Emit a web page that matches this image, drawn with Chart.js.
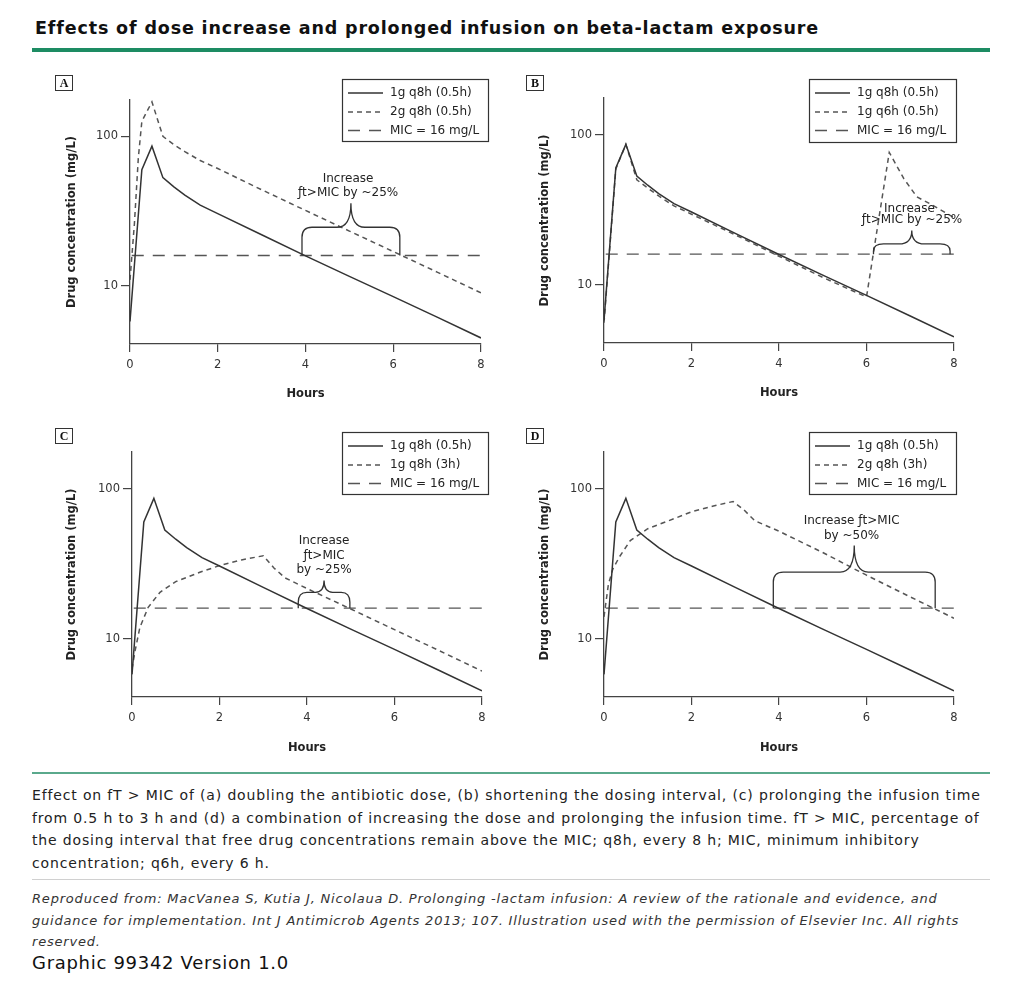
<!DOCTYPE html>
<html lang="en">
<head>
<meta charset="UTF-8">
<title>Effects of dose increase and prolonged infusion on beta-lactam exposure</title>
<script src="https://cdn.jsdelivr.net/npm/chart.js"></script>
<style>
  body { margin: 0; background: #fff; font-family: "DejaVu Sans", Verdana, sans-serif; color: #222; }
  .page { position: relative; width: 1024px; height: 1000px; overflow: hidden; }
  .abs { position: absolute; }
  .title { left: 35px; top: 17px; font-size: 17.5px; letter-spacing: 0.85px; font-weight: bold; line-height: 22px; color: #111; white-space: nowrap; }
  .bar { left: 32px; top: 48px; width: 958px; height: 4px; background: #1d8c63; }
  .bar2 { left: 32px; top: 772px; width: 958px; height: 2px; background: #5aa98c; }
  .sep { left: 32px; top: 879px; width: 958px; height: 1px; background: #d0d0d0; }
  .tag { width: 16px; height: 14px; border: 1.3px solid #333; font: bold 12px "Liberation Serif", serif; text-align: center; line-height: 14px; color: #111; }
  .caption { left: 32px; top: 784px; font-size: 14px; letter-spacing: 0.85px; line-height: 22.7px; color: #222; white-space: nowrap; }
  .ref { left: 32px; top: 888px; font-size: 13px; letter-spacing: 0.8px; line-height: 21.5px; font-style: italic; color: #333; white-space: nowrap; }
  .graphic { left: 32px; top: 952px; font-size: 18px; letter-spacing: 0.7px; line-height: 22px; color: #111; white-space: nowrap; }
</style>
</head>
<body>
<div class="page">
  <div class="abs title">Effects of dose increase and prolonged infusion on beta-lactam exposure</div>
  <div class="abs bar"></div>

  <canvas id="chartA" class="abs" width="445" height="345" style="left:50px;top:60px"></canvas>
  <canvas id="chartB" class="abs" width="445" height="345" style="left:524px;top:60px"></canvas>
  <canvas id="chartC" class="abs" width="445" height="345" style="left:50px;top:412px"></canvas>
  <canvas id="chartD" class="abs" width="445" height="345" style="left:524px;top:412px"></canvas>

  <div class="abs tag" style="left:55px;top:75px">A</div>
  <div class="abs tag" style="left:526px;top:75px">B</div>
  <div class="abs tag" style="left:55px;top:428px">C</div>
  <div class="abs tag" style="left:526px;top:428px">D</div>

  <div class="abs bar2"></div>
  <div class="abs caption">Effect on fT &gt; MIC of (a) doubling the antibiotic dose, (b) shortening the dosing interval, (c) prolonging the infusion time<br>from 0.5 h to 3 h and (d) a combination of increasing the dose and prolonging the infusion time. fT &gt; MIC, percentage of<br>the dosing interval that free drug concentrations remain above the MIC; q8h, every 8 h; MIC, minimum inhibitory<br>concentration; q6h, every 6 h.</div>
  <div class="abs sep"></div>
  <div class="abs ref">Reproduced from: MacVanea S, Kutia J, Nicolaua D. Prolonging -lactam infusion: A review of the rationale and evidence, and<br>guidance for implementation. Int J Antimicrob Agents 2013; 107. Illustration used with the permission of Elsevier Inc. All rights<br>reserved.</div>
  <div class="abs graphic">Graphic 99342 Version 1.0</div>
</div>

<script>
  // data (hours, mg/L)
  const hours1g = [0, 0.27, 0.5, 0.75, 1, 1.25, 1.6, 2, 3, 4, 5, 6, 7, 8];
  const conc1g  = [5.8, 60, 86, 53, 46, 40.5, 34.7, 30.5, 22, 15.9, 11.6, 8.5, 6.2, 4.5];

  const hours2g = [0, 0.1, 0.19, 0.27, 0.5, 0.75, 1, 1.25, 1.6, 2, 3, 4, 5, 6, 7, 8];
  const conc2g  = [11, 26, 72, 126, 170, 100, 88, 79, 69, 61, 44, 32, 23.3, 17, 12.4, 9];

  const hoursQ6h = [0, 0.27, 0.5, 0.75, 1, 1.25, 1.6, 2, 3, 4, 5, 6, 6.52, 6.85, 7.15, 7.5, 8];
  const concQ6h  = [5.6, 59, 86, 50, 44, 39, 33.5, 29.5, 21.5, 15.5, 11.2, 8.3, 76, 51, 38.5, 34, 28];

  const hours3h = [0, 0.07, 0.18, 0.37, 0.64, 1, 1.55, 2, 2.5, 3, 3.25, 3.5, 4, 5, 6, 7, 8];
  const conc3h  = [6.3, 8.3, 11.9, 16.2, 20.4, 24, 27.7, 30.7, 33.5, 35.7, 29.5, 25.4, 21.6, 15.8, 11.5, 8.4, 6.1];

  const hours2g3h = [0, 0.1, 0.2, 0.35, 0.6, 1, 1.6, 2, 2.5, 2.95, 3.2, 3.45, 4, 5, 6, 7, 8];
  const conc2g3h  = [14, 23, 29, 35, 45, 54, 63, 70, 76.5, 82, 72, 61, 52, 37.5, 26.5, 19, 13.7];

  const micLevel = 16;
  const micHours = [0.04, 8];

  const xTicks = [0, 2, 4, 6, 8];
  const yTicks = [10, 100];

  const legendA = ['1g q8h (0.5h)', '2g q8h (0.5h)', 'MIC = 16 mg/L'];
  const legendB = ['1g q8h (0.5h)', '1g q6h (0.5h)', 'MIC = 16 mg/L'];
  const legendC = ['1g q8h (0.5h)', '1g q8h (3h)', 'MIC = 16 mg/L'];
  const legendD = ['1g q8h (0.5h)', '2g q8h (3h)', 'MIC = 16 mg/L'];

  // braces: [from h, to h, top mg/L, tip mg/L]
  const braceA = [3.92, 6.15, 24.7, 35.8];
  const braceB = [6.16, 7.91, 18.7, 23];
  const braceC = [3.8, 4.98, 20.4, 24.4];
  const braceD = [3.87, 7.57, 27.8, 41.7];

  // notes: [text, h, mg/L]
  const notesA = [['Increase', 4.97, 51.7], ['\u0192t>MIC by ~25%', 4.97, 41.7]];
  const notesB = [['Increase', 6.98, 31.8], ['\u0192t>MIC by ~25%', 7.04, 27.2]];
  const notesC = [['Increase', 4.39, 45], ['\u0192t>MIC', 4.39, 35.8], ['by ~25%', 4.39, 28.8]];
  const notesD = [['Increase \u0192t>MIC', 5.66, 61.2], ['by ~50%', 5.66, 48.6]];

  Chart.defaults.font.family = '"DejaVu Sans", Verdana, sans-serif';
  Chart.defaults.color = '#333';

  const pts = (ts, cs) => ts.map((t, i) => ({ x: t, y: cs[i] }));
  const micPts = () => micHours.map(h => ({ x: h, y: micLevel }));

  const solidStyle = { borderColor: '#333', borderWidth: 1.5 };
  const shortDash = [5, 4];
  const longDash = [12, 9];

  // page geometry of each panel: canvas origin, plot box, legend box, title spots
  const panels = {
    A: { cx: 50, cy: 60, L: 130, T: 100, R: 481, B: 344, box: [342, 79, 488, 141], line: [348, 383, 390], yTitle: 72, xTitle: 394 },
    B: { cx: 524, cy: 60, L: 604, T: 98, R: 954, B: 343, box: [809, 79, 956, 142], line: [815, 850, 857], yTitle: 545, xTitle: 393 },
    C: { cx: 50, cy: 412, L: 132, T: 452, R: 482, B: 697, box: [342, 432, 488, 494], line: [348, 383, 390], yTitle: 72, xTitle: 748 },
    D: { cx: 524, cy: 412, L: 604, T: 452, R: 954, B: 697, box: [809, 432, 956, 494], line: [815, 850, 857], yTitle: 545, xTitle: 748 }
  };

  function braceOverlay(g, labels, brace, notes) {
    return {
      id: 'overlay',
      afterDatasetsDraw(chart) {
        const ctx = chart.ctx;
        const x = chart.scales.x, y = chart.scales.y;
        ctx.save();

        // legend box
        const [bx1, by1, bx2, by2] = g.box.map((v, i) => v - (i % 2 ? g.cy : g.cx));
        ctx.strokeStyle = '#333';
        ctx.lineWidth = 1.2;
        ctx.strokeRect(bx1 + 0.5, by1 + 0.5, bx2 - bx1, by2 - by1);
        const dashes = [[], shortDash, longDash];
        const rows = [14, 33, 51.5];
        ctx.font = '12px "DejaVu Sans", Verdana, sans-serif';
        ctx.fillStyle = '#222';
        ctx.textBaseline = 'middle';
        ctx.textAlign = 'left';
        labels.forEach((txt, i) => {
          const ry = by1 + rows[i];
          ctx.beginPath();
          ctx.setLineDash(dashes[i]);
          ctx.lineWidth = 1.4;
          ctx.strokeStyle = i ? '#555' : '#333';
          ctx.moveTo(g.line[0] - g.cx, ry);
          ctx.lineTo(g.line[1] - g.cx, ry);
          ctx.stroke();
          ctx.fillText(txt, g.line[2] - g.cx, ry);
        });
        ctx.setLineDash([]);

        // curly brace
        const x1 = x.getPixelForValue(brace[0]);
        const x2 = x.getPixelForValue(brace[1]);
        const base = y.getPixelForValue(micLevel);
        const top = y.getPixelForValue(brace[2]);
        const tip = y.getPixelForValue(brace[3]);
        const xm = (x1 + x2) / 2;
        const rx = Math.min(10, (xm - x1) / 3);
        const ry = Math.min(10, (base - top) * 0.7);
        const rc = Math.min(14, (xm - x1) / 3);
        ctx.strokeStyle = '#333';
        ctx.lineWidth = 1.3;
        ctx.beginPath();
        ctx.moveTo(x1, base);
        ctx.lineTo(x1, top + ry);
        ctx.quadraticCurveTo(x1, top, x1 + rx, top);
        ctx.lineTo(xm - rc, top);
        ctx.quadraticCurveTo(xm, top, xm, tip);
        ctx.quadraticCurveTo(xm, top, xm + rc, top);
        ctx.lineTo(x2 - rx, top);
        ctx.quadraticCurveTo(x2, top, x2, top + ry);
        ctx.lineTo(x2, base);
        ctx.stroke();

        // notes
        ctx.textAlign = 'center';
        ctx.fillStyle = '#222';
        notes.forEach(([txt, h, c]) => {
          ctx.fillText(txt, x.getPixelForValue(h), y.getPixelForValue(c));
        });
        ctx.restore();
      }
    };
  }

  function makePanel(id, g, second, labels, brace, notes) {
    const W = 445, H = 345;
    const yTitlePad = (g.yTitle - g.cx) - 6.6;
    const xTitlePad = (g.cy + H - g.xTitle) - 6.6;
    return new Chart(document.getElementById(id), {
      type: 'line',
      data: {
        datasets: [
          Object.assign({ label: labels[0], data: pts(hours1g, conc1g), pointRadius: 0, tension: 0 }, solidStyle),
          { label: labels[1], data: second, borderColor: '#555', borderWidth: 1.5, borderDash: shortDash, pointRadius: 0, tension: 0 },
          { label: labels[2], data: micPts(), borderColor: '#555', borderWidth: 1.4, borderDash: longDash, pointRadius: 0 }
        ]
      },
      options: {
        responsive: false,
        animation: false,
        layout: { padding: { left: 0, bottom: 0, top: g.T - g.cy, right: g.cx + W - g.R } },
        plugins: { legend: { display: false }, tooltip: { enabled: false } },
        scales: {
          x: {
            type: 'linear', min: 0, max: 8,
            afterBuildTicks: s => { s.ticks = xTicks.map(v => ({ value: v })); },
            afterFit: s => { s.height = g.cy + H - g.B; },
            ticks: { padding: 6, font: { size: 11.5 }, color: '#333' },
            grid: { drawOnChartArea: false, tickLength: 8, color: '#444', lineWidth: 1.2 },
            border: { color: '#444', width: 1.3 },
            title: { display: true, text: 'Hours', font: { size: 11.5, weight: 'bold' }, color: '#222', padding: { top: 0, bottom: xTitlePad } }
          },
          y: {
            type: 'logarithmic', min: 4.1, max: 175,
            afterBuildTicks: s => { s.ticks = yTicks.map(v => ({ value: v })); },
            afterFit: s => { s.width = g.L - g.cx; },
            ticks: { padding: 3, font: { size: 11.5 }, color: '#333', callback: v => String(v) },
            grid: { drawOnChartArea: false, tickLength: 9, color: '#444', lineWidth: 1.2 },
            border: { color: '#444', width: 1.3 },
            title: { display: true, text: 'Drug concentration (mg/L)', font: { size: 11.5, weight: 'bold' }, color: '#222', padding: { top: yTitlePad, bottom: 0 } }
          }
        }
      },
      plugins: [braceOverlay(g, labels, brace, notes)]
    });
  }

  makePanel('chartA', panels.A, pts(hours2g, conc2g), legendA, braceA, notesA);
  makePanel('chartB', panels.B, pts(hoursQ6h, concQ6h), legendB, braceB, notesB);
  makePanel('chartC', panels.C, pts(hours3h, conc3h), legendC, braceC, notesC);
  makePanel('chartD', panels.D, pts(hours2g3h, conc2g3h), legendD, braceD, notesD);
</script>
</body>
</html>
